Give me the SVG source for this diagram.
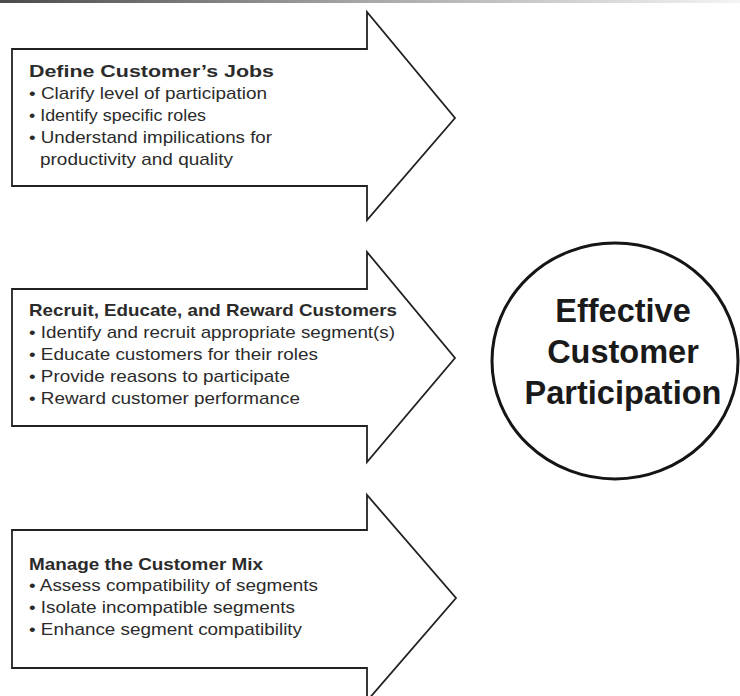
<svg xmlns="http://www.w3.org/2000/svg" width="740" height="696" viewBox="0 0 740 696">
  <defs>
    <linearGradient id="topBar" x1="0" y1="0" x2="1" y2="0">
      <stop offset="0" stop-color="#4a4a4a"/>
      <stop offset="0.5" stop-color="#a8a8a8"/>
      <stop offset="1" stop-color="#f4f4f4"/>
    </linearGradient>
  </defs>
  <style>
    .arrow { fill: #ffffff; stroke: #222222; stroke-width: 1.8; stroke-linejoin: miter; }
    .title { font-family: "Liberation Sans", Arial, sans-serif; font-weight: bold; font-size: 17px; fill: #2b2b2b; }
    .item { font-family: "Liberation Sans", Arial, sans-serif; font-size: 17px; fill: #2b2b2b; }
    .goal { fill: #ffffff; stroke: #151515; stroke-width: 3; }
    .goal-text { font-family: "Liberation Sans", Arial, sans-serif; font-weight: bold; font-size: 32.5px; fill: #1a1a1a; text-anchor: middle; }
  </style>

  <rect x="0" y="0" width="740" height="696" fill="#ffffff"/>
  <rect x="0" y="0" width="740" height="3" fill="url(#topBar)"/>

  <!-- Step 1 -->
  <g id="define-jobs">
    <path class="arrow" d="M12,49 H367 V12 L455,118 L367,220 V186 H12 Z"/>
    <text class="title" x="29" y="77" textLength="245" lengthAdjust="spacingAndGlyphs">Define Customer’s Jobs</text>
    <text class="item" x="29" y="99" textLength="238" lengthAdjust="spacingAndGlyphs">• Clarify level of participation</text>
    <text class="item" x="29" y="121" textLength="177" lengthAdjust="spacingAndGlyphs">• Identify specific roles</text>
    <text class="item" x="29" y="143" textLength="243" lengthAdjust="spacingAndGlyphs">• Understand impilications for</text>
    <text class="item" x="40" y="165" textLength="193" lengthAdjust="spacingAndGlyphs">productivity and quality</text>
  </g>

  <!-- Step 2 -->
  <g id="recruit-educate-reward">
    <path class="arrow" d="M12,289 H367 V252 L455,358 L367,462 V426 H12 Z"/>
    <text class="title" x="29" y="316" textLength="368" lengthAdjust="spacingAndGlyphs">Recruit, Educate, and Reward Customers</text>
    <text class="item" x="29" y="338" textLength="366" lengthAdjust="spacingAndGlyphs">• Identify and recruit appropriate segment(s)</text>
    <text class="item" x="29" y="360" textLength="289" lengthAdjust="spacingAndGlyphs">• Educate customers for their roles</text>
    <text class="item" x="29" y="382" textLength="261" lengthAdjust="spacingAndGlyphs">• Provide reasons to participate</text>
    <text class="item" x="29" y="404" textLength="271" lengthAdjust="spacingAndGlyphs">• Reward customer performance</text>
  </g>

  <!-- Step 3 -->
  <g id="manage-mix">
    <path class="arrow" d="M12,530 H367 V495 L456,598 L367,701 V668 H12 Z"/>
    <text class="title" x="29" y="570" textLength="234" lengthAdjust="spacingAndGlyphs">Manage the Customer Mix</text>
    <text class="item" x="29" y="591" textLength="289" lengthAdjust="spacingAndGlyphs">• Assess compatibility of segments</text>
    <text class="item" x="29" y="613" textLength="266" lengthAdjust="spacingAndGlyphs">• Isolate incompatible segments</text>
    <text class="item" x="29" y="635" textLength="273" lengthAdjust="spacingAndGlyphs">• Enhance segment compatibility</text>
  </g>

  <!-- Outcome -->
  <g id="effective-participation">
    <ellipse class="goal" cx="615" cy="361" rx="123" ry="118"/>
    <text class="goal-text" x="623" y="322">Effective</text>
    <text class="goal-text" x="623" y="363">Customer</text>
    <text class="goal-text" x="623" y="404">Participation</text>
  </g>
</svg>
